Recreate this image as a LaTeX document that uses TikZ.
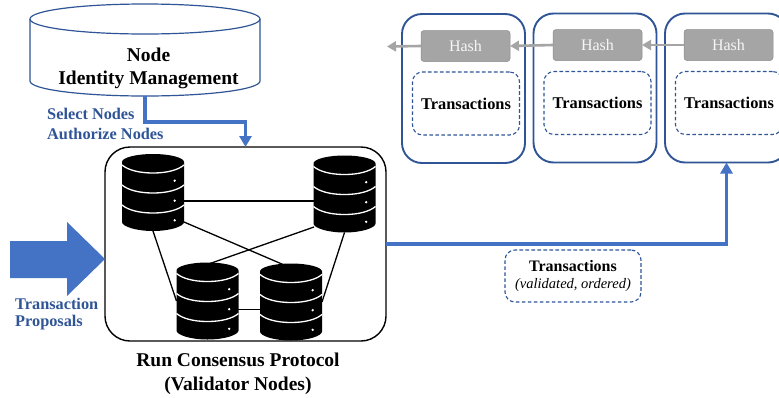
\documentclass[tikz,border=0pt]{standalone}
\usepackage{fontspec}
\setmainfont{Liberation Serif}
\usetikzlibrary{arrows.meta,calc}
\definecolor{navyb}{HTML}{2F5597}
\definecolor{flowb}{HTML}{4472C4}
\definecolor{hashg}{HTML}{A5A5A5}
\definecolor{hashe}{HTML}{8C8C8C}
\newcommand{\fsz}[1]{\fontsize{#1}{#1}\selectfont}
\tikzset{
  dbicon/.pic={
    \fill[black] (-31,8) .. controls (-31,3.6) and (-17,0) .. (0,0) .. controls (17,0) and (31,3.6) .. (31,8)
      -- (31,68) .. controls (31,72.4) and (17,77) .. (0,77) .. controls (-17,77) and (-31,72.4) .. (-31,68) -- cycle;
    \foreach \yy in {11,31,51}{
      \draw[white,line width=1.3pt] (-31,\yy) .. controls (-25,\yy+5) and (-14,\yy+8) .. (0,\yy+8) .. controls (14,\yy+8) and (25,\yy+5) .. (31,\yy);
    }
    \foreach \yy in {26.7,46.7,66.3}{
      \fill[white] (21.7,\yy) circle (1.3);
    }
  },
  slot/.style={minimum width=62pt,minimum height=77pt,inner sep=0pt,outer sep=0pt},
  link/.style={black,line width=1.3pt},
  blockbox/.style={draw=navyb,line width=1.9pt,rounded corners=20pt,minimum width=123pt,minimum height=149pt,inner sep=0pt,outer sep=0pt},
  txbox/.style={draw=navyb,line width=1.1pt,dash pattern=on 3.6pt off 2.4pt,rounded corners=10pt,minimum width=107pt,minimum height=63pt,inner sep=0pt,font=\bfseries\fsz{16.4},text=black},
  hashbox/.style={draw=hashe,fill=hashg,line width=0.5pt,rounded corners=3pt,minimum width=89pt,minimum height=31pt,inner sep=0pt,outer sep=0pt,text=white!90!hashg,font=\fsz{16}},
  greyflow/.style={draw=hashg,line width=2.6pt,-{Triangle[width=10pt,length=9pt]}},
  blueflow/.style={draw=flowb,line width=3.8pt,-{Triangle[width=12pt,length=11pt]}},
  bluetext/.style={text=navyb,font=\bfseries\fsz{16.3},align=left,inner sep=0pt,anchor=west},
  caption/.style={text=black,font=\bfseries\fsz{19.5},align=center,inner sep=0pt},
}
\begin{document}
\begin{tikzpicture}[x=1pt,y=-1pt]
\clip (0,0) rectangle (779,397);
\useasboundingbox (0,0) rectangle (779,397);
\fill[white] (0,0) rectangle (779,397);

% cylinder
\node[minimum width=230pt,minimum height=92pt,inner sep=0pt,outer sep=0pt] (idm) at (145,50) {};
\draw[navyb,line width=1.2pt,fill=white] (30,19) -- (30,81)
   .. controls (30,89.5) and (81.5,96) .. (145,96) .. controls (208.5,96) and (260,89.5) .. (260,81) -- (260,19);
\draw[navyb,line width=1.2pt] (30,19) .. controls (30,10.5) and (81.5,4) .. (145,4) .. controls (208.5,4) and (260,10.5) .. (260,19)
   .. controls (260,27.5) and (208.5,34) .. (145,34) .. controls (81.5,34) and (30,27.5) .. (30,19) -- cycle;
\node[caption] (idmt) at (148.5,68.5) {Node\\[4pt]Identity Management};

\node[bluetext] (sel) at (47,114) {Select Nodes};
\node[bluetext] (auth) at (47,134) {Authorize Nodes};

% consensus box
\node[draw=black,line width=1.4pt,rounded corners=25pt,minimum width=281pt,minimum height=194pt,inner sep=0pt,outer sep=0pt] (cons) at (245.5,244) {};

% flows
\draw[blueflow] (idm.south) -- ++(0,26) -| (cons.north);

% server slots
\node[slot] (A) at (153,192.5) {};
\node[slot] (B) at (344.5,194) {};
\node[slot] (C) at (207.5,301) {};
\node[slot] (D) at (291,302) {};
\coordinate (Ar) at (184,201);
\coordinate (Br) at (314,201);
\coordinate (Ax) at (184,222);
\coordinate (Dx) at (283,264.5);
\coordinate (Bx) at (314,227);
\coordinate (Cx) at (210,263.5);
\coordinate (Cr) at (238,309.5);
\coordinate (Dl) at (260,309.5);
\draw[link] (Ar) -- (Br);
\draw[link] (Ax) -- (Dx);
\draw[link] (Bx) -- (Cx);
\draw[link] (A.south) -- (C.west);
\draw[link] (B.south) -- (D.east);
\draw[link] (Cr) -- (Dl);
\pic at (A.north) {dbicon};
\pic at (B.north) {dbicon};
\pic at (C.north) {dbicon};
\pic at (D.north) {dbicon};

% big arrow
\fill[flowb] (10,241) -- (67,241) -- (67,222) -- (105,259) -- (67,296) -- (67,278) -- (10,278) -- cycle;
\node[bluetext] (tp1) at (15,304) {Transaction};
\node[bluetext] (tp2) at (15,323) {Proposals};

\node[caption] (cap) at (238,374) {Run Consensus Protocol\\[4pt](Validator Nodes)};

% blocks
\node[blockbox] (b1) at (463.5,88.5) {};
\node[blockbox] (b2) at (595,88) {};
\node[blockbox] (b3) at (726.5,88) {};
\node[hashbox] (h1) at (465.5,46) {Hash};
\node[hashbox] (h2) at (597.5,45) {Hash};
\node[hashbox] (h3) at (728.5,45) {Hash};
\node[txbox] (t1) at (466,103.5) {Transactions};
\node[txbox] (t2) at (597.5,103) {\raisebox{-1pt}{Transactions}};
\node[txbox] (t3) at (729,103) {\raisebox{-1pt}{Transactions}};
\coordinate (out) at (387,46.5);
\draw[greyflow] (h3.west) -- (h2.east);
\draw[greyflow] (h2.west) -- (h1.east);
\draw[greyflow] (h1.west) -- (out);

\draw[blueflow] (cons.east) -| (b3.south);

\node[draw=navyb,line width=1.1pt,dash pattern=on 3.6pt off 2.4pt,rounded corners=10pt,minimum width=136pt,minimum height=52pt,inner sep=0pt,align=center] (lbl) at (573,276)
  {{\bfseries\fsz{16}Transactions}\\[5pt]{\itshape\fsz{14.5}(validated, ordered)}};
\end{tikzpicture}
\end{document}
